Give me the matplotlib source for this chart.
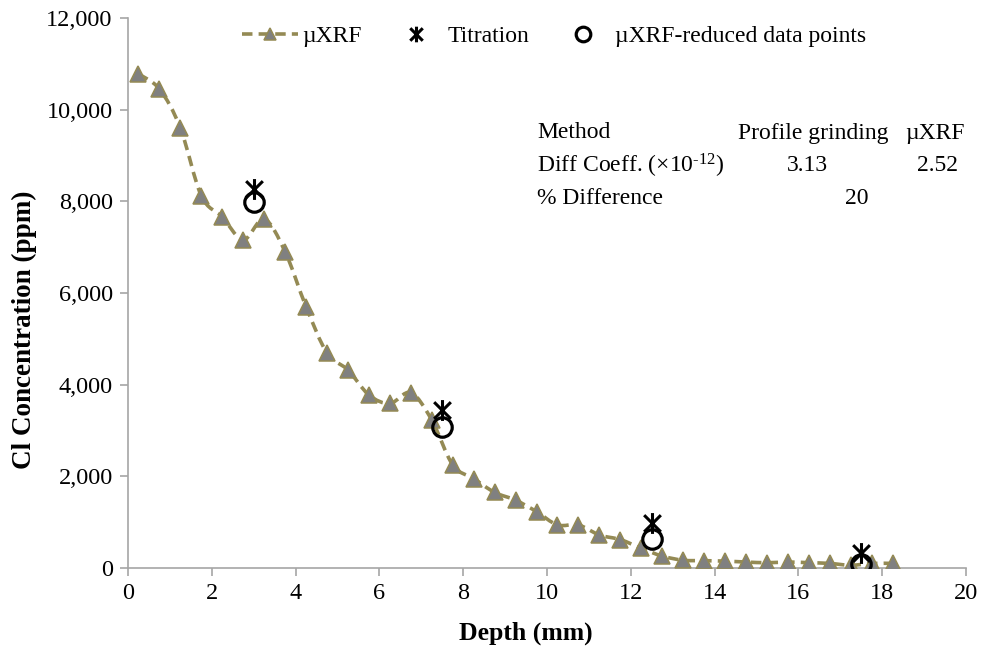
import numpy as np
import matplotlib
matplotlib.use("Agg")
import matplotlib.pyplot as plt
from matplotlib.path import Path
from matplotlib.patches import PathPatch
from matplotlib.lines import Line2D
from matplotlib.ticker import FuncFormatter

# ---- data ----
depth_xrf = [0.25, 0.75, 1.25, 1.75, 2.25, 2.75, 3.25, 3.75, 4.25, 4.75,
             5.25, 5.75, 6.25, 6.75, 7.25, 7.75, 8.25, 8.75, 9.25, 9.75,
             10.25, 10.75, 11.25, 11.75, 12.25, 12.75, 13.25, 13.75, 14.25, 14.75,
             15.25, 15.75, 16.25, 16.75, 17.25, 17.75, 18.25]
cl_xrf = [10780, 10450, 9600, 8120, 7660, 7160, 7610, 6900, 5700, 4690,
          4320, 3775, 3590, 3825, 3230, 2250, 1950, 1650, 1480, 1230,
          940, 940, 720, 620, 430, 260, 170, 160, 150, 130,
          115, 130, 116, 100, 60, 100, 100]

depth_tit = [3.0, 7.5, 12.5, 17.5]
cl_tit = [8280, 3450, 975, 320]

depth_red = [3.0, 7.5, 12.5, 17.5]
cl_red = [7990, 3080, 640, 90]

x_ticks = [0, 2, 4, 6, 8, 10, 12, 14, 16, 18, 20]
y_ticks = [0, 2000, 4000, 6000, 8000, 10000, 12000]

legend_labels = ["\u00b5XRF", "Titration", "\u00b5XRF-reduced data points"]
table_rows = [["Method", "Profile grinding", "\u00b5XRF"],
              ["Diff Coeff. (\u00d710$^{\\text{-12}}$)", "3.13", "2.52"],
              ["% Difference", "20", ""]]

# ---- style ----
plt.rcParams['font.family'] = ['Liberation Serif', 'DejaVu Serif']
plt.rcParams['mathtext.fontset'] = 'custom'
plt.rcParams['mathtext.rm'] = 'Liberation Serif'
plt.rcParams['mathtext.it'] = 'Liberation Serif:italic'
plt.rcParams['mathtext.bf'] = 'Liberation Serif:bold'
FS_TICK = 17.5
FS_TXT = 17
line_col = '#948A54'
mk_face = '#808080'
axis_col = '#A6A6A6'
dash = (0, (2.9, 1.7))
LW = 2.6

fig = plt.figure(figsize=(9.85, 6.51), dpi=100)
ax = fig.add_axes([128/985, 1-568/651, (966-128)/985, (568-18)/651])

# smoothed (Excel-like) curve through the µXRF points using cubic Bezier segments
xs = np.asarray(depth_xrf, float)
ys = np.asarray(cl_xrf, float)
n = len(xs)
verts = [(xs[0], ys[0])]
codes = [Path.MOVETO]
for i in range(n - 1):
    p0 = np.array([xs[max(i - 1, 0)], ys[max(i - 1, 0)]])
    p1 = np.array([xs[i], ys[i]])
    p2 = np.array([xs[i + 1], ys[i + 1]])
    p3 = np.array([xs[min(i + 2, n - 1)], ys[min(i + 2, n - 1)]])
    c1 = p1 + (p2 - p0) / 6.0
    c2 = p2 - (p3 - p1) / 6.0
    verts += [tuple(c1), tuple(c2), tuple(p2)]
    codes += [Path.CURVE4] * 3
curve = PathPatch(Path(verts, codes), facecolor='none', edgecolor=line_col,
                  lw=LW, linestyle=dash, zorder=2)
ax.add_patch(curve)

ax.plot(depth_xrf, cl_xrf, linestyle='none', marker='^', markersize=12,
        markerfacecolor=mk_face, markeredgecolor=line_col, markeredgewidth=1.1,
        zorder=3)

# asterisk marker (vertical bar + X)
star = Path([(0, -1), (0, 1), (-0.8, -0.8), (0.8, 0.8), (-0.8, 0.8), (0.8, -0.8)],
            [Path.MOVETO, Path.LINETO, Path.MOVETO, Path.LINETO, Path.MOVETO, Path.LINETO])
ax.plot(depth_tit, cl_tit, linestyle='none', marker=star, markersize=15,
        markeredgecolor='black', markerfacecolor='none', markeredgewidth=2.2, zorder=4)
ax.plot(depth_red, cl_red, linestyle='none', marker='o', markersize=14,
        markeredgecolor='black', markerfacecolor='none', markeredgewidth=2.3, zorder=5)

ax.set_xlim(0, 20)
ax.set_ylim(0, 12000)
ax.set_xticks(x_ticks)
ax.set_yticks(y_ticks)
ax.yaxis.set_major_formatter(FuncFormatter(lambda v, p: f"{int(v):,}"))
for s in ['top', 'right']:
    ax.spines[s].set_visible(False)
for s in ['left', 'bottom']:
    ax.spines[s].set_color(axis_col)
    ax.spines[s].set_linewidth(1.2)
ax.tick_params(axis='both', direction='out', length=6, width=1.2, color=axis_col,
               labelsize=FS_TICK, labelcolor='black')
ax.tick_params(axis='x', pad=5)
ax.tick_params(axis='y', pad=5)

xl = ax.set_xlabel("Depth (mm)", fontsize=18.5, fontweight='bold')
ax.xaxis.set_label_coords((526 - 128) / 838, (568 - 633) / 550)
xl.set_verticalalignment('center')
yl = ax.set_ylabel("Cl Concentration (ppm)", fontsize=19.5, fontweight='bold')
ax.yaxis.set_label_coords((24 - 128) / 838, (568 - 330) / 550)
yl.set_verticalalignment('center')

handles = [
    Line2D([], [], color=line_col, lw=LW, linestyle=dash, marker='^',
           markersize=12, markerfacecolor=mk_face, markeredgecolor=line_col, markeredgewidth=1.1),
    Line2D([], [], linestyle='none', marker=star, markersize=15, markeredgecolor='black',
           markeredgewidth=2.2),
    Line2D([], [], linestyle='none', marker='o', markersize=14, markeredgecolor='black',
           markerfacecolor='none', markeredgewidth=2.3),
]
ax.legend(handles, legend_labels, loc='center',
          bbox_to_anchor=((554 - 128) / 838, (568 - 36) / 550),
          ncol=3, frameon=False, fontsize=FS_TXT, handlelength=2.4, handletextpad=0.15,
          columnspacing=1.1, markerscale=0.75, borderaxespad=0)

# embedded table text
row_y = [1 - 133/651, 1 - 166/651, 1 - 198/651]
cells = {
    (0, 0): (537/985, 'left'), (0, 1): (738/985, 'left'), (0, 2): (905/985, 'left'),
    (1, 0): (537/985, 'left'), (1, 1): (807/985, 'center'), (1, 2): (937/985, 'center'),
    (2, 0): (537/985, 'left'), (2, 1): (857/985, 'center'),
}
for r, row in enumerate(table_rows):
    for c, txt in enumerate(row):
        if not txt:
            continue
        xp, ha = cells[(r, c)]
        fig.text(xp, row_y[r], txt, fontsize=FS_TXT, ha=ha, va='center')

fig.savefig("out.png", dpi=100)
